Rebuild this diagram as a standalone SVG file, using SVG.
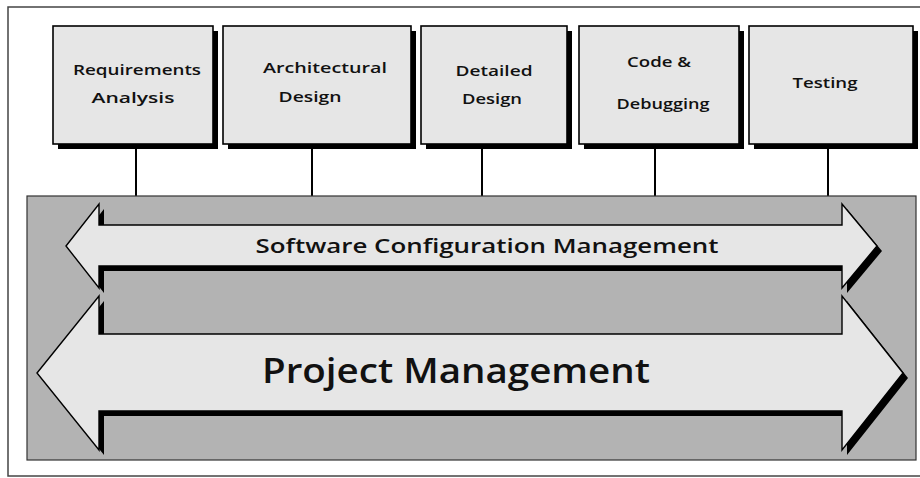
<svg xmlns="http://www.w3.org/2000/svg" width="920" height="478" viewBox="0 0 920 478">
  <style>
    .frame { fill: #ffffff; stroke: #444444; stroke-width: 1.5; }
    .panel { fill: #b3b3b3; stroke: #333333; stroke-width: 1.2; }
    .box { fill: #e6e6e6; stroke: #000000; stroke-width: 1.6; }
    .shadow { fill: #000000; }
    .band { fill: #e6e6e6; stroke: #000000; stroke-width: 1.4; stroke-linejoin: miter; }
    .link { stroke: #000000; stroke-width: 2; fill: none; }
    .label { font-family: "Open Sans", "Liberation Sans", "DejaVu Sans", sans-serif; font-weight: 600; fill: #111111; text-anchor: middle; }
    .small { font-size: 15px; }
    .mid { font-size: 19px; }
    .big { font-size: 35px; }
  </style>

  <!-- page frame -->
  <rect class="frame" x="8" y="7" width="916" height="469"/>

  <!-- connectors from phases down to the management panel -->
  <g id="connectors">
    <line class="link" x1="136" y1="148" x2="136" y2="196"/>
    <line class="link" x1="312" y1="148" x2="312" y2="196"/>
    <line class="link" x1="482" y1="148" x2="482" y2="196"/>
    <line class="link" x1="655" y1="148" x2="655" y2="196"/>
    <line class="link" x1="828" y1="148" x2="828" y2="196"/>
  </g>

  <!-- phase boxes -->
  <g id="requirements">
    <rect class="shadow" x="58" y="31" width="160" height="118"/>
    <rect class="box" x="53" y="26" width="160" height="118"/>
    <text class="label small" x="137" y="75" textLength="128" lengthAdjust="spacingAndGlyphs">Requirements</text>
    <text class="label small" x="133" y="103" textLength="83" lengthAdjust="spacingAndGlyphs">Analysis</text>
  </g>

  <g id="architectural">
    <rect class="shadow" x="228" y="31" width="188" height="118"/>
    <rect class="box" x="223" y="26" width="188" height="118"/>
    <text class="label small" x="325" y="73" textLength="124" lengthAdjust="spacingAndGlyphs">Architectural</text>
    <text class="label small" x="310" y="102" textLength="63" lengthAdjust="spacingAndGlyphs">Design</text>
  </g>

  <g id="detailed">
    <rect class="shadow" x="426" y="31" width="146" height="118"/>
    <rect class="box" x="421" y="26" width="146" height="118"/>
    <text class="label small" x="494" y="76" textLength="77" lengthAdjust="spacingAndGlyphs">Detailed</text>
    <text class="label small" x="492" y="104" textLength="60" lengthAdjust="spacingAndGlyphs">Design</text>
  </g>

  <g id="coding">
    <rect class="shadow" x="584" y="31" width="160" height="118"/>
    <rect class="box" x="579" y="26" width="160" height="118"/>
    <text class="label small" x="659" y="67" textLength="64" lengthAdjust="spacingAndGlyphs">Code &amp;</text>
    <text class="label small" x="663" y="109" textLength="93" lengthAdjust="spacingAndGlyphs">Debugging</text>
  </g>

  <g id="testing">
    <rect class="shadow" x="754" y="31" width="164" height="118"/>
    <rect class="box" x="749" y="26" width="164" height="118"/>
    <text class="label small" x="825" y="88" textLength="65" lengthAdjust="spacingAndGlyphs">Testing</text>
  </g>

  <!-- management panel with two double-headed band arrows -->
  <g id="panel">
    <rect class="panel" x="27" y="196" width="889" height="264"/>
  </g>

  <g id="scm">
    <path class="shadow" transform="translate(5,5)" d="M66,246 L99,204 L99,225 L842,225 L842,204 L877,246 L842,288 L842,266 L99,266 L99,288 Z"/>
    <path class="band" d="M66,246 L99,204 L99,225 L842,225 L842,204 L877,246 L842,288 L842,266 L99,266 L99,288 Z"/>
    <text class="label mid" x="487" y="253" textLength="463" lengthAdjust="spacingAndGlyphs">Software Configuration Management</text>
  </g>

  <g id="pm">
    <path class="shadow" transform="translate(5,5)" d="M37,373 L99,296 L99,334 L842,334 L842,296 L903,373 L842,450 L842,411 L99,411 L99,450 Z"/>
    <path class="band" d="M37,373 L99,296 L99,334 L842,334 L842,296 L903,373 L842,450 L842,411 L99,411 L99,450 Z"/>
    <text class="label big" x="456" y="383" textLength="388" lengthAdjust="spacingAndGlyphs">Project Management</text>
  </g>
</svg>
